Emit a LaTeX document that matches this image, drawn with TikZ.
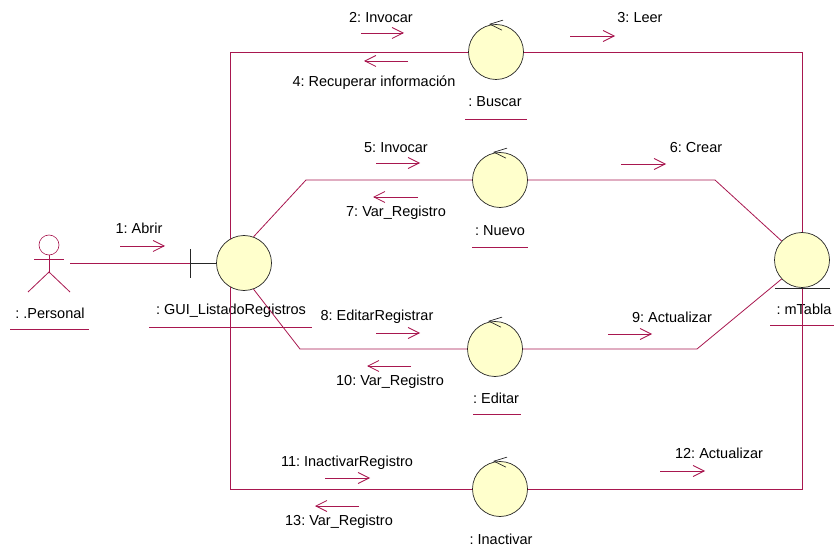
\documentclass[tikz,border=0pt]{standalone}
\usepackage{fontspec}
\setmainfont{Liberation Sans}
\usetikzlibrary{arrows.meta}
\definecolor{rosered}{HTML}{A8174F}
\definecolor{objfill}{HTML}{FFFFCC}
\begin{document}
\frenchspacing
\begin{tikzpicture}[x=1pt, y=-1pt, line width=0.8pt,
    nodes={font=\fontsize{14.5}{17}\selectfont, inner sep=0pt},
    obj/.style={draw=black!85, fill=objfill, circle, minimum size=55pt, line width=0.7pt},
    link/.style={draw=rosered},
    msg/.style={draw=rosered, ->, >={Straight Barb[length=11pt,width=11pt]}},
    ctrl/.style={draw=black!85, line width=0.7pt}]
    \useasboundingbox (0,0) rectangle (836,556);
    % Objects
    \node[obj] (gui) at (244,263) {};
    \node[obj] (buscar) at (496,52) {};
    \node[obj] (nuevo) at (500,180) {};
    \node[obj] (editar) at (495,349) {};
    \node[obj] (inactivar) at (500,489) {};
    \node[obj] (mtabla) at (802,260) {};
    % Names under the objects
    \foreach \nam/\x/\y/\xa/\xb/\yl/\txt in {
        personal/50/313/10/89/329/: .Personal,
        gui/231/311/149/312/327/: GUI\_ListadoRegistros,
        buscar/495/102/465/527/119/: Buscar,
        nuevo/500/231/472/528/247/: Nuevo,
        editar/496/398/473/521/414/: Editar,
        mtabla/804/309/770/834/325/: mTabla}
    {
        \node (name\nam) at (\x,\y) {\txt};
        \coordinate (ula\nam) at (\xa,\yl);
        \coordinate (ulb\nam) at (\xb,\yl);
        \draw[link] (ula\nam) -- (ulb\nam);
    }
    \node (nameinactivar) at (501,539) {: Inactivar};
    % Actor
    \node[draw=rosered, circle, minimum size=20pt, line width=0.6pt] (head) at (49,245) {};
    \coordinate (armL) at (34,259);
    \coordinate (armR) at (64,259);
    \coordinate (hip) at (49,272);
    \coordinate (footL) at (28,292);
    \coordinate (footR) at (70,292);
    \draw[link] (armL) -- (armR);
    \draw[link] (head.south) -- (hip);
    \draw[link] (footL) -- (hip) -- (footR);
    % Boundary mark
    \coordinate (start) at (70,263);
    \coordinate (bar) at (190,263);
    \coordinate (barT) at (190,249);
    \coordinate (barB) at (190,278);
    \draw[link] (start) -- (bar);
    \draw[ctrl] (barT) -- (barB);
    \draw[ctrl] (bar) -- (gui.west);
    % Control marks
    \foreach \o in {buscar,nuevo,editar,inactivar}{
        \draw[ctrl] ([shift={(7,-4)}]\o.north) -- ([shift={(-6,0)}]\o.north) -- ([shift={(6,6)}]\o.north);
    }
    % Links
    \coordinate (nuevoA) at (306,180);
    \coordinate (nuevoB) at (715,180);
    \coordinate (editarA) at (300,349);
    \coordinate (editarB) at (697,349);
    \coordinate (mtablaU) at (775,288);
    \coordinate (mtablaV) at (830,288);
    \coordinate (mtablaS) at (802,288);
    \draw[link] (gui.119) |- (buscar.west);
    \draw[link] (buscar.east) -| (mtabla.north);
    \draw[link] (gui.70) -- (nuevoA) -- (nuevo.west);
    \draw[link] (nuevo.east) -- (nuevoB) -- (mtabla.137);
    \draw[link] (gui.-70) -- (editarA) -- (editar.west);
    \draw[link] (editar.east) -- (editarB) -- (mtabla.-137);
    \draw[link] (gui.-119) |- (inactivar.west);
    \draw[link] (inactivar.east) -| (mtablaS);
    \draw[ctrl] (mtablaU) -- (mtablaV);
    % Messages
    \foreach \nam/\xa/\xb/\y/\lx/\ly/\txt in {
        1/120/165/246/139/228/1: Abrir,
        2/361/404/33/381/18/2: Invocar,
        3/570/615/36/640/18/3: Leer,
        4/408/364/61/374/83/4: Recuperar información,
        5/376/420/163/396/148/5: Invocar,
        6/621/666/164/696/148/6: Crear,
        7/418/373/197/396/213/7: Var\_Registro,
        8/376/420/333/377/317/8: EditarRegistrar,
        9/608/652/334/672/317/9: Actualizar,
        10/411/367/366/390/382/10: Var\_Registro,
        11/325/370/478/347/463/11: InactivarRegistro,
        12/660/705/471/719/453/12: Actualizar,
        13/359/315/506/339/522/13: Var\_Registro}
    {
        \coordinate (from\nam) at (\xa,\y);
        \coordinate (to\nam) at (\xb,\y);
        \draw[msg] (from\nam) -- (to\nam);
        \node (msg\nam) at (\lx,\ly) {\txt};
    }
\end{tikzpicture}
\end{document}
